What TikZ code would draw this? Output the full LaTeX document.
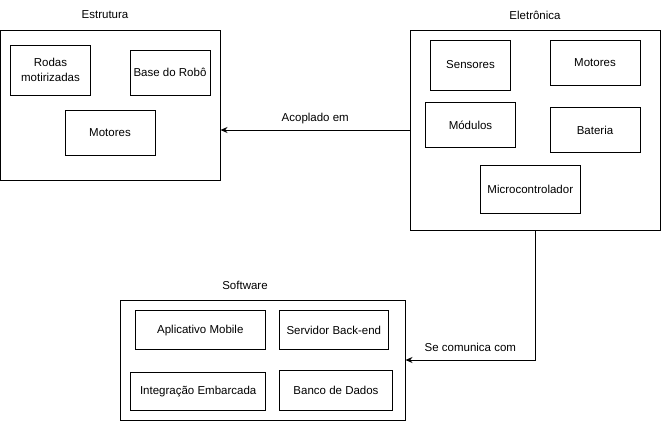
\documentclass[tikz,border=0pt]{standalone}
\usepackage{fontspec}
\setmainfont{Liberation Sans}
\usetikzlibrary{arrows.meta}
\begin{document}
\begin{tikzpicture}[x=1pt,y=-1pt,
  every node/.style={font=\fontsize{11.5}{13.5}\selectfont, inner sep=0pt},
  group/.style={draw, line width=1pt, rectangle},
  item/.style={draw, line width=1pt, rectangle, align=center},
  title/.style={},
  conn/.style={line width=1pt, -{Stealth[length=7pt,width=6pt]}}
]
\useasboundingbox (0,0) rectangle (661,421);
% group boxes
\node[group, minimum width=219.5pt, minimum height=150pt] (est) at (110.25,105) {};
\node[group, minimum width=249.5pt, minimum height=200pt] (ele) at (535.25,130) {};
\node[group, minimum width=284.5pt, minimum height=120pt] (soft) at (262.75,360) {};
% titles
\node[title] (testr) at (105,15) {Estrutura};
\node[title] (tele) at (535,15) {Eletrônica};
\node[title] (tsoft) at (245,285) {Software};
% Estrutura items
\node[item, minimum width=80pt, minimum height=50pt] (rodas) at (50.5,70) {Rodas\\[1pt]motirizadas};
\node[item, minimum width=80pt, minimum height=45pt] (base) at (170,72.5) {Base do Robô};
\node[item, minimum width=90pt, minimum height=45pt] (motE) at (110,132.5) {Motores};
% Eletronica items
\node[item, minimum width=80pt, minimum height=50pt] (sens) at (470.5,65) {Sensores};
\node[item, minimum width=90pt, minimum height=45pt] (motL) at (595,62.5) {Motores};
\node[item, minimum width=90pt, minimum height=45pt] (mod) at (470.5,125.2) {Módulos};
\node[item, minimum width=90pt, minimum height=45pt] (bat) at (595,130.2) {Bateria};
\node[item, minimum width=100pt, minimum height=48pt] (micro) at (530.3,189) {Microcontrolador};
% Software items
\node[item, minimum width=130pt, minimum height=39pt] (app) at (200.3,330.3) {Aplicativo Mobile};
\node[item, minimum width=109pt, minimum height=39pt] (serv) at (333.8,330.3) {Servidor Back-end};
\node[item, minimum width=135pt, minimum height=38pt] (integ) at (198.2,391.2) {Integração Embarcada};
\node[item, minimum width=113pt, minimum height=40pt] (banco) at (336,390) {Banco de Dados};
% connectors
\draw[conn] (ele.west) -- (ele.west -| est.east) node[midway, above=6pt] {Acoplado em};
\draw[conn] (ele.south) |- (soft.east) node[pos=0.75, above=8pt] {Se comunica com};
\end{tikzpicture}
\end{document}
